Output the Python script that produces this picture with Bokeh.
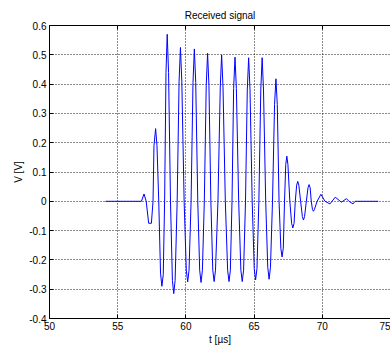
from bokeh.plotting import figure
from bokeh.models import FixedTicker, LinearAxis, Range1d
from bokeh.embed import file_html
from bokeh.resources import INLINE

# Received signal samples (time in microseconds, voltage in volts)
t_us = [54.1, 56.74, 56.93, 57.09, 57.27, 57.47, 57.59, 57.66, 57.78, 57.88,
        58.01, 58.14, 58.24, 58.34, 58.44, 58.54, 58.63, 58.73, 58.87, 59.01,
        59.11, 59.21, 59.36, 59.5, 59.6, 59.7, 59.87, 60.03, 60.13, 60.23,
        60.38, 60.52, 60.62, 60.72, 60.87, 61.01, 61.11, 61.21, 61.35, 61.49,
        61.59, 61.69, 61.83, 61.97, 62.07, 62.17, 62.35, 62.52, 62.62, 62.72,
        62.89, 63.06, 63.16, 63.26, 63.38, 63.5, 63.6, 63.7, 63.87, 64.03,
        64.13, 64.23, 64.37, 64.5, 64.6, 64.7, 64.86, 65.01, 65.11, 65.21,
        65.35, 65.49, 65.59, 65.69, 65.85, 66.0, 66.1, 66.2, 66.35, 66.5,
        66.6, 66.7, 66.83, 66.96, 67.05, 67.14, 67.23, 67.32, 67.4, 67.48,
        67.62, 67.75, 67.84, 67.93, 68.02, 68.12, 68.2, 68.28, 68.41, 68.54,
        68.62, 68.7, 68.83, 68.95, 69.03, 69.11, 69.19, 69.28, 69.35, 69.42,
        69.62, 69.9, 70.2, 70.56, 70.95, 71.4, 71.77, 71.96, 72.25, 72.4,
        74.1]
v_volts = [0.0, 0.0, 0.025, 0.0, -0.075, -0.075, 0.0, 0.19, 0.248, 0.19,
           0.0, -0.245, -0.29, -0.25, 0.0, 0.44, 0.57, 0.44, 0.0, -0.27,
           -0.315, -0.27, 0.0, 0.41, 0.525, 0.41, 0.0, -0.235, -0.275, -0.235,
           0.0, 0.405, 0.52, 0.405, 0.0, -0.235, -0.277, -0.235, 0.0, 0.395,
           0.505, 0.395, 0.0, -0.235, -0.274, -0.235, 0.0, 0.39, 0.5, 0.39,
           0.0, -0.235, -0.274, -0.235, 0.0, 0.385, 0.492, 0.385, 0.0, -0.235,
           -0.274, -0.235, 0.0, 0.38, 0.49, 0.38, 0.0, -0.23, -0.268, -0.23,
           0.0, 0.38, 0.49, 0.38, 0.0, -0.225, -0.266, -0.225, 0.0, 0.33,
           0.418, 0.33, 0.0, -0.16, -0.19, -0.16, 0.0, 0.125, 0.154, 0.125,
           0.0, -0.075, -0.091, -0.075, 0.0, 0.055, 0.068, 0.055, 0.0, -0.052,
           -0.064, -0.052, 0.0, 0.046, 0.057, 0.046, 0.0, -0.028, -0.034, -0.028,
           0.0, 0.024, 0.0, -0.009, 0.014, -0.003, 0.009, 0.0, -0.009, 0.0,
           0.0]

x_ticks = [50, 55, 60, 65, 70, 75]
y_ticks = [-0.4, -0.3, -0.2, -0.1, 0, 0.1, 0.2, 0.3, 0.4, 0.5, 0.6]
y_tick_labels = ["-0.4", "-0.3", "-0.2", "-0.1", "0", "0.1", "0.2", "0.3", "0.4", "0.5", "0.6"]

FONT = "Liberation Sans"

p = figure(width=390, height=347, x_range=Range1d(50, 75), y_range=Range1d(-0.4, 0.6),
           output_backend="svg", toolbar_location=None,
           min_border_left=49, min_border_right=0, min_border_top=25, min_border_bottom=25,
           background_fill_color="white", border_fill_color="white")

p.title.text = "Received signal"
p.title.text_font = FONT
p.title.text_font_size = "10px"
p.title.text_font_style = "normal"
p.title.text_color = "black"
p.title.align = "center"
p.title.standoff = 9

# box edges come from the axis lines (the right edge lies outside the picture)
p.outline_line_color = None

for ax in (p.xaxis[0], p.yaxis[0]):
    ax.axis_line_color = "black"
    ax.major_tick_line_color = "black"
    ax.major_tick_in = 4
    ax.major_tick_out = 0
    ax.minor_tick_line_color = None
    ax.major_label_text_font = FONT
    ax.major_label_text_font_size = "10px"
    ax.major_label_text_color = "black"
    ax.axis_label_text_font = FONT
    ax.axis_label_text_font_size = "10px"
    ax.axis_label_text_font_style = "normal"
    ax.axis_label_text_color = "black"

p.xaxis.ticker = FixedTicker(ticks=x_ticks)
p.yaxis.ticker = FixedTicker(ticks=y_ticks)
p.yaxis.major_label_overrides = dict(zip(y_ticks, y_tick_labels))
p.xaxis.axis_label = "t [µs]"
p.yaxis.axis_label = "V [V]"
p.xaxis.major_label_standoff = 3
p.yaxis.major_label_standoff = 3
p.xaxis.axis_label_standoff = 1
p.yaxis.axis_label_standoff = 2

# top edge of the box with its tick marks (labels not drawn)
top_axis = LinearAxis(ticker=FixedTicker(ticks=x_ticks), axis_line_color="black",
                      major_tick_in=4, major_tick_out=0, minor_tick_line_color=None,
                      major_label_text_font_size="1px", major_label_text_color=None,
                      major_label_standoff=0, major_tick_line_color="black")
p.add_layout(top_axis, "above")

p.xgrid.ticker = FixedTicker(ticks=x_ticks)
p.ygrid.ticker = FixedTicker(ticks=y_ticks)
for g in (p.xgrid[0], p.ygrid[0]):
    g.grid_line_color = "black"
    g.grid_line_dash = "1 2"
    g.grid_line_width = 1
    g.grid_line_alpha = 0.9

p.line(t_us, v_volts, line_color="#0000ff", line_width=1)

open("out.html", "w").write(file_html(p, INLINE))
